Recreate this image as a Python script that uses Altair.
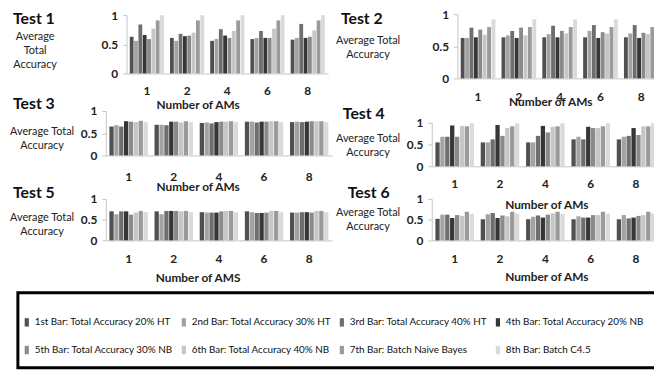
import altair as alt
import pandas as pd

ams = ["1", "2", "4", "6", "8"]
bar_labels = [
    "1st Bar: Total Accuracy 20% HT",
    "2nd Bar: Total Accuracy 30% HT",
    "3rd Bar: Total Accuracy 40% HT",
    "4th Bar: Total Accuracy 20% NB",
    "5th Bar: Total Accuracy 30% NB",
    "6th Bar: Total Accuracy 40% NB",
    "7th Bar: Batch Naive Bayes",
    "8th Bar: Batch C4.5",
]
bar_colors = ["#505050", "#a3a3a3", "#6e6e6e", "#363636", "#8a8a8a", "#c6c6c6", "#9a9a9a", "#dadada"]

test1 = [
    [0.63, 0.56, 0.84, 0.66, 0.59, 0.77, 0.91, 1.0],
    [0.61, 0.56, 0.68, 0.64, 0.65, 0.70, 0.91, 1.0],
    [0.56, 0.59, 0.76, 0.65, 0.61, 0.73, 0.91, 1.0],
    [0.59, 0.61, 0.73, 0.61, 0.61, 0.77, 0.91, 1.0],
    [0.58, 0.61, 0.85, 0.61, 0.63, 0.74, 0.91, 1.0],
]
test2 = [
    [0.63, 0.63, 0.79, 0.64, 0.76, 0.68, 0.80, 0.92],
    [0.64, 0.67, 0.74, 0.63, 0.79, 0.67, 0.80, 0.92],
    [0.64, 0.69, 0.82, 0.64, 0.74, 0.70, 0.80, 0.92],
    [0.64, 0.74, 0.83, 0.63, 0.72, 0.70, 0.80, 0.92],
    [0.64, 0.70, 0.83, 0.63, 0.71, 0.69, 0.80, 0.92],
]
test3 = [
    [0.65, 0.68, 0.65, 0.77, 0.76, 0.75, 0.78, 0.75],
    [0.69, 0.69, 0.68, 0.76, 0.76, 0.74, 0.77, 0.75],
    [0.73, 0.74, 0.72, 0.75, 0.76, 0.76, 0.77, 0.75],
    [0.76, 0.76, 0.74, 0.76, 0.76, 0.77, 0.77, 0.75],
    [0.75, 0.76, 0.75, 0.76, 0.77, 0.77, 0.77, 0.75],
]
test4 = [
    [0.55, 0.68, 0.68, 0.94, 0.68, 0.93, 0.92, 0.99],
    [0.55, 0.55, 0.62, 0.95, 0.70, 0.88, 0.92, 0.99],
    [0.55, 0.55, 0.70, 0.93, 0.78, 0.91, 0.92, 0.99],
    [0.62, 0.68, 0.62, 0.91, 0.88, 0.88, 0.92, 0.99],
    [0.62, 0.68, 0.70, 0.88, 0.72, 0.92, 0.92, 0.99],
]
test5 = [
    [0.70, 0.63, 0.70, 0.70, 0.62, 0.67, 0.71, 0.68],
    [0.70, 0.63, 0.71, 0.71, 0.71, 0.70, 0.71, 0.68],
    [0.68, 0.67, 0.67, 0.67, 0.70, 0.71, 0.71, 0.68],
    [0.70, 0.68, 0.66, 0.66, 0.67, 0.71, 0.71, 0.68],
    [0.67, 0.67, 0.68, 0.68, 0.67, 0.71, 0.71, 0.68],
]
test6 = [
    [0.52, 0.62, 0.62, 0.54, 0.61, 0.59, 0.69, 0.64],
    [0.51, 0.63, 0.66, 0.54, 0.60, 0.58, 0.69, 0.65],
    [0.51, 0.57, 0.60, 0.55, 0.62, 0.65, 0.69, 0.64],
    [0.51, 0.58, 0.55, 0.55, 0.61, 0.61, 0.69, 0.64],
    [0.51, 0.61, 0.53, 0.55, 0.59, 0.61, 0.69, 0.65],
]
panel_titles = ["Test 1", "Test 2", "Test 3", "Test 4", "Test 5", "Test 6"]
x_titles = ["Number of AMs", "Number of AMs", "Number of AMs", "Number of AMs", "Number of AMS", "Number of AMs"]
y_title_3 = ["Average", "Total", "Accuracy"]
y_title_2 = ["Average Total", "Accuracy"]

W, H = 654, 366
FONT = "Lato"
AXIS_GREY = "#c4c4c4"

legend_def = alt.Legend(
    orient="none", legendX=14, legendY=311, direction="horizontal", columns=4,
    gridAlign="each", columnPadding=5, rowPadding=18, title=None, padding=0,
    symbolType="M-0.5,-1H0.5V1H-0.5Z", symbolSize=72, symbolStrokeWidth=0,
    symbolOpacity=1, labelFont=FONT, labelFontSize=10, labelColor="#111",
    labelLimit=400, labelOffset=3,
)


def long_df(values):
    rows = []
    for g, grp in zip(ams, values):
        for b, v in zip(bar_labels, grp):
            rows.append({"AMs": g, "Bar": b, "Accuracy": v})
    return pd.DataFrame(rows)


def panel(values, xr, yr, axis_x, label_pad, xtitle, xt_pos, ytitle, yt_pos):
    base = yr[0]
    return alt.Chart(long_df(values)).mark_bar().encode(
        x=alt.X("AMs:N", sort=ams,
                scale=alt.Scale(range=xr, paddingInner=0.15, paddingOuter=0.08),
                axis=alt.Axis(orient="bottom", offset=base - H, labelAngle=0, ticks=False,
                              labelPadding=label_pad, labelFont=FONT, labelFontSize=12,
                              labelFontWeight="bold", labelColor="#222", domainColor=AXIS_GREY,
                              grid=False, title=xtitle, titleX=xt_pos[0], titleY=xt_pos[1],
                              titleAlign="center", titleBaseline="middle", titleFont=FONT,
                              titleFontSize=12, titleFontWeight="bold", titleColor="#222")),
        xOffset=alt.XOffset("Bar:N", sort=bar_labels, scale=alt.Scale(paddingInner=0.12)),
        y=alt.Y("Accuracy:Q", scale=alt.Scale(domain=[0, 1], range=yr, nice=False),
                axis=alt.Axis(orient="left", offset=-axis_x, values=[0, 0.5, 1], format="~g",
                              tickSize=4, tickColor=AXIS_GREY, domainColor=AXIS_GREY,
                              labelPadding=5, labelFont=FONT, labelFontSize=12,
                              labelFontWeight="bold", labelColor="#222", grid=False,
                              title=ytitle, titleAngle=0, titleX=yt_pos[0], titleY=yt_pos[1],
                              titleAlign="center", titleBaseline="top", titleLineHeight=14,
                              titleFont=FONT, titleFontSize=11, titleFontWeight="normal",
                              titleColor="#222")),
        color=alt.Color("Bar:N", scale=alt.Scale(domain=bar_labels, range=bar_colors),
                        legend=legend_def),
    )


p1 = panel(test1, [120, 324], [64, 5], 120, 12, x_titles[0], (192, 31), y_title_3, (-93, 21))
p2 = panel(test2, [455, 662], [69, 4], 455, 13, x_titles[1], (549, 23), y_title_2, (-91, 25))
p3 = panel(test3, [99, 328], [147, 102], 99, 16, x_titles[2], (192, 32), y_title_2, (-65, 117))
p4 = panel(test4, [429, 659], [158, 114], 429, 12, x_titles[3], (545, 39), y_title_2, (-65, 124))
p5 = panel(test5, [99, 328], [233, 191], 99, 13, x_titles[4], (192, 38), y_title_2, (-65, 204))
p6 = panel(test6, [429, 659], [233, 191], 429, 13, x_titles[5], (545, 37), y_title_2, (-65, 199))

title_pos = [(5, 9), (337, 9), (5, 95), (339, 105), (5, 185), (344, 185)]
title_layers = []
for t, (tx, ty) in zip(panel_titles, title_pos):
    title_layers.append(
        alt.Chart(pd.DataFrame({"t": [t]})).mark_text(
            align="left", baseline="middle", font=FONT, fontSize=16, fontWeight="bold", color="#111"
        ).encode(text="t:N", x=alt.value(tx), y=alt.value(ty))
    )

legend_box = alt.Chart(pd.DataFrame({"a": [0]})).mark_rect(
    fill="white", fillOpacity=0, stroke="black", strokeWidth=3
).encode(x=alt.value(10), x2=alt.value(662), y=alt.value(286), y2=alt.value(362))

chart = alt.layer(
    legend_box, p1, p2, p3, p4, p5, p6, *title_layers
).resolve_scale(
    x="independent", y="independent", xOffset="independent"
).resolve_axis(
    x="independent", y="independent"
).properties(
    width=W, height=H, padding=0, autosize=alt.AutoSizeParams(type="none"), background="white"
).configure_view(stroke=None)

chart.save("out.html", embed_options={"renderer": "svg", "actions": False})
